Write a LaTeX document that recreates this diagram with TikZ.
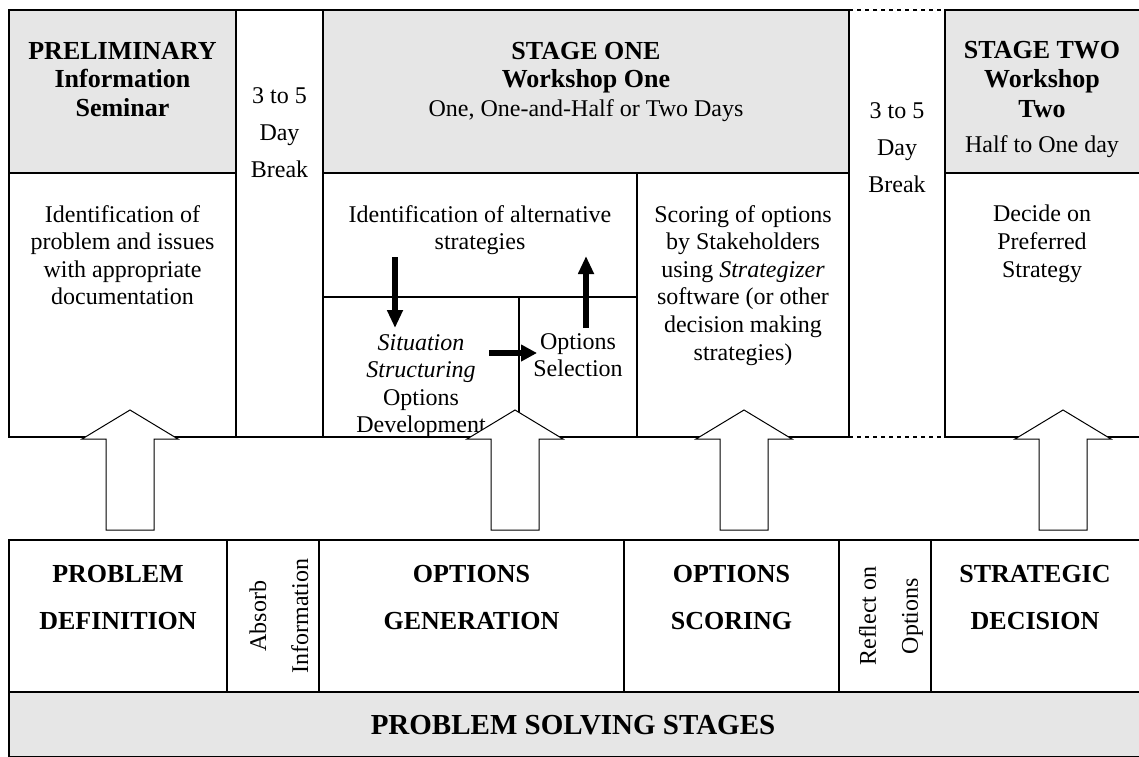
\documentclass[tikz,border=0pt]{standalone}
\usepackage{fontspec}
\setmainfont{Liberation Serif}
\usetikzlibrary{arrows.meta}

\definecolor{panelgrey}{HTML}{E6E6E6}

\tikzset{
  hdtext/.style={font=\bfseries\fontsize{26}{28.5}\selectfont, align=center, inner sep=0pt, anchor=north},
  bodytext/.style={font=\fontsize{24}{27.6}\selectfont, align=center, inner sep=0pt, anchor=north},
  breaktext/.style={font=\fontsize{24}{37}\selectfont, align=center, inner sep=0pt, anchor=north},
  sidetext/.style={font=\fontsize{24}{42}\selectfont, align=center, inner sep=0pt, rotate=90},
  stagetext/.style={font=\bfseries\fontsize{26}{47}\selectfont, align=center, inner sep=0pt, anchor=north},
  titletext/.style={font=\bfseries\fontsize{29}{33}\selectfont, inner sep=0pt},
  panel/.style={draw, line width=1.2pt},
  greypanel/.style={panel, fill=panelgrey},
  gap/.style={line width=1.2pt, dash pattern=on 4pt off 4pt},
  hollow/.style={draw, fill=white, line width=1pt, line join=miter},
  blk/.style={line width=5.5pt, -{Triangle[length=18pt,width=15pt]}},
}

\begin{document}
\begin{tikzpicture}[x=1pt, y=-1pt]
    \useasboundingbox (0,0) rectangle (1139,756);

    % top row: workshops and breaks
    \draw[greypanel] (9,10) rectangle (236,173);
    \draw[panel] (9,173) rectangle (236,437);
    \draw[panel] (236,10) rectangle (323,437);
    \draw[greypanel] (323,10) rectangle (849,173);
    \draw[panel] (323,173) rectangle (637,297);
    \draw[panel] (323,297) rectangle (519,437);
    \draw[panel] (519,297) rectangle (637,437);
    \draw[panel] (637,173) rectangle (849,437);
    \draw[gap] (849,10) -- (945,10);
    \draw[gap] (849,437) -- (945,437);
    \draw[greypanel] (945,10) rectangle (1141,173);
    \draw[panel] (945,173) rectangle (1141,437);

    % bottom row: problem solving stages
    \foreach \xa/\xb in {9/227, 227/319, 319/624, 624/839, 839/931, 931/1141}
        \draw[panel] (\xa,540) rectangle (\xb,692);
    \draw[greypanel] (9,692) rectangle (1141,757);

    \path (122.5,42) node[hdtext] (prelim) {PRELIMINARY\\Information\\Seminar};
    \path (279.5,87) node[breaktext] (breakA) {3 to 5\\Day\\Break};
    \path (586,42)   node[hdtext] (stageone) {STAGE ONE\\Workshop One\\{\mdseries\fontsize{24}{28.5}\selectfont One, One-and-Half or Two Days}};
    \path (897,102)  node[breaktext] (breakB) {3 to 5\\Day\\Break};
    \path (1042,41)  node[hdtext] (stagetwo) {STAGE TWO\\[1pt]Workshop\\[1pt]Two\\[7pt]{\mdseries\fontsize{24}{28.5}\selectfont Half to One day}};

    \path (122.5,205) node[bodytext] (probid) {Identification of\\problem and issues\\with appropriate\\documentation};
    \path (480,205)   node[bodytext] (altid) {Identification of alternative\\strategies};
    \path (743,205)   node[bodytext] (scoring) {Scoring of options\\by Stakeholders\\using \textit{Strategizer}\\software (or other\\decision making\\strategies)};
    \path (1042,205)  node[bodytext] (decide) {Decide on\\Preferred\\Strategy};
    \path (421,334)   node[bodytext] (sitstruct) {\textit{Situation}\\\textit{Structuring}\\Options\\Development};
    \path (578,333)   node[bodytext] (optsel) {Options\\Selection};

    \path (118,565)   node[stagetext] (probdef) {PROBLEM\\DEFINITION};
    \path (279,616)   node[sidetext] (absorb) {Absorb\\Information};
    \path (471.5,565) node[stagetext] (optgen) {OPTIONS\\GENERATION};
    \path (731.5,565) node[stagetext] (optscore) {OPTIONS\\SCORING};
    \path (891,616)   node[sidetext] (reflect) {Reflect on\\Options};
    \path (1035,565)  node[stagetext] (stratdec) {STRATEGIC\\DECISION};
    \path (573,725)   node[titletext] (solving) {PROBLEM SOLVING STAGES};

    % hollow arrows from stages up to workshops
    \foreach \ax in {130,515,744,1063}
        \draw[hollow] (\ax-24,530) -- (\ax+24,530) -- (\ax+24,439) -- (\ax+48,439)
            -- (\ax,410) -- (\ax-48,439) -- (\ax-24,439) -- cycle;

    % options loop
    \coordinate (downA) at (395,257);
    \coordinate (downB) at (395,328);
    \coordinate (rightA) at (489,353);
    \coordinate (rightB) at (537,353);
    \coordinate (upA) at (586,328);
    \coordinate (upB) at (586,256);
    \draw[blk] (downA) -- (downB);
    \draw[blk, -{Triangle[length=16pt,width=16pt]}] (rightA) -- (rightB);
    \draw[blk] (upA) -- (upB);
\end{tikzpicture}
\end{document}
